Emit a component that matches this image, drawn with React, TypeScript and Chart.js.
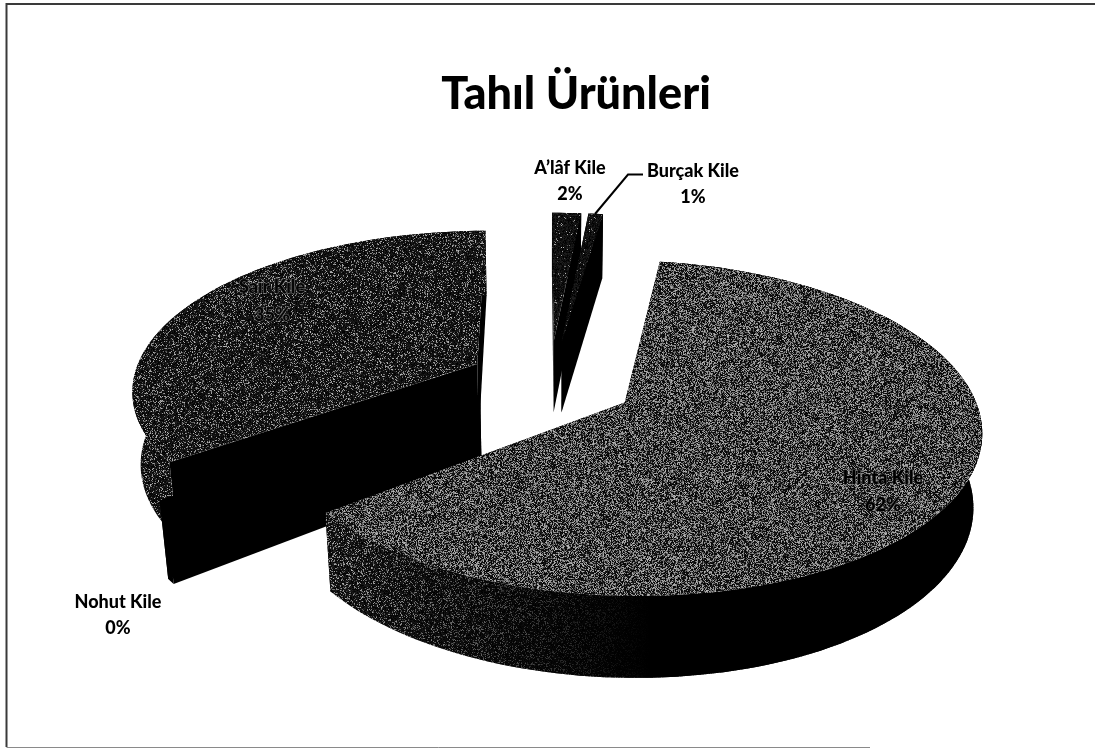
import React, { useEffect, useRef } from "react";
import { Chart, registerables } from "chart.js";

Chart.register(...registerables);

const categories = ["Hinta Kile", "Nohut Kile", "Şair Kile", "A’lâf Kile", "Burçak Kile"];
const shareValues = [62.2, 0.49, 34.9, 1.6, 0.8];
const shareLabels = ["62%", "0%", "35%", "2%", "1%"];
const titleText = "Tahıl Ürünleri";

// Slice explosion, as a fraction of the radius
const explode = [0.24, 0.24, 0.24, 0.24, 0.24];
// Extra screen shift of each exploded slice
const nudgeX = [-1, -5, -3, -3, -1];
const nudgeY = [0, -12, -2, -5, -5];
// Painter's order: back to front
const drawOrder = [3, 4, 2, 1, 0];
// Density of the light scan grain: top face / outer wall
const topGrain = [0.5, 0.0, 0.22, 0.05, 0.05];
const wallGrain = [0.24, 0.0, 0.2, 0.0, 0.0];

const labelPos: [number, number, number, string, string, string][] = [
  [883, 478, 505, "#000000", "900", "rgba(120,120,120,0.7)"],
  [118, 602, 628, "#000000", "900", ""],
  [272, 287, 315, "#050505", "900", "rgba(140,140,140,0.85)"],
  [570, 168, 194, "#000000", "900", ""],
  [693, 171, 197, "#000000", "900", ""],
];

// Projection of the pie plane on the screen
const CX = 553, CY = 383, AX = 345, BY = 158, TILT = 0.15, HEIGHT = 74, SHRINK = 0.02;

function project(px: number, py: number, z: number): [number, number] {
  const s = 1 / (1 - TILT * py + SHRINK * z);
  return [CX + AX * px * s, CY + BY * py * s + HEIGHT * z * s];
}

const grainCache = new Map<number, CanvasPattern | string>();
function grain(density: number): CanvasPattern | string {
  if (density <= 0) return "#000";
  const hit = grainCache.get(density);
  if (hit) return hit;
  const size = 509;
  const c = document.createElement("canvas");
  c.width = c.height = size;
  const g = c.getContext("2d")!;
  const img = g.createImageData(size, size);
  let seed = 20231;
  const next = () => {
    seed = (seed * 1664525 + 1013904223) >>> 0;
    return (seed >>> 8) / 16777216;
  };
  for (let i = 0; i < size * size; i++) {
    const light = next() < density;
    const shade = next();
    const v = light ? 70 + shade * 115 : shade * 32;
    img.data[i * 4] = img.data[i * 4 + 1] = img.data[i * 4 + 2] = v;
    img.data[i * 4 + 3] = 255;
  }
  g.putImageData(img, 0, 0);
  const pattern = g.createPattern(c, "repeat")!;
  grainCache.set(density, pattern);
  return pattern;
}

function fillPoly(ctx: CanvasRenderingContext2D, pts: [number, number][], fill: any) {
  ctx.beginPath();
  pts.forEach((p, i) => (i ? ctx.lineTo(p[0], p[1]) : ctx.moveTo(p[0], p[1])));
  ctx.closePath();
  ctx.fillStyle = fill;
  ctx.fill();
}

const pie3d = {
  id: "pie3d",
  beforeDatasetDraw(chart: any) {
    const ctx: CanvasRenderingContext2D = chart.ctx;
    const arcs = chart.getDatasetMeta(0).data;
    ctx.save();
    for (const i of drawOrder) {
      const arc = arcs[i];
      const a0: number = arc.startAngle;
      const a1: number = arc.endAngle;
      const mid = (a0 + a1) / 2;
      const ox = Math.cos(mid) * explode[i];
      const oy = Math.sin(mid) * explode[i];
      const steps = Math.max(1, Math.ceil((a1 - a0) / 0.03));
      const place = (px: number, py: number, z: number): [number, number] => {
        const p = project(px, py, z);
        return [p[0] + nudgeX[i], p[1] + nudgeY[i]];
      };
      const rim: [number, number][] = [];
      for (let k = 0; k <= steps; k++) {
        const a = a0 + ((a1 - a0) * k) / steps;
        rim.push([ox + Math.cos(a), oy + Math.sin(a)]);
      }
      const topRim = rim.map((p) => place(p[0], p[1], 0));
      const botRim = rim.map((p) => place(p[0], p[1], 1));
      const apexT = place(ox, oy, 0);
      const apexB = place(ox, oy, 1);
      // cut faces
      fillPoly(ctx, [apexT, topRim[0], botRim[0], apexB], "#000");
      fillPoly(ctx, [apexT, topRim[steps], botRim[steps], apexB], "#000");
      // outer wall
      const wall = [...topRim, ...botRim.slice().reverse()];
      fillPoly(ctx, wall, grain(wallGrain[i]));
      if (i === 0) {
        const g = ctx.createLinearGradient(345, 0, 650, 0);
        g.addColorStop(0, "rgba(0,0,0,0)");
        g.addColorStop(1, "rgba(0,0,0,1)");
        fillPoly(ctx, wall, g);
      }
      // top face
      fillPoly(ctx, [apexT, ...topRim], grain(topGrain[i]));
    }
    ctx.restore();
    return false;
  },
  afterDraw(chart: any) {
    const ctx: CanvasRenderingContext2D = chart.ctx;
    ctx.save();
    // scanned page frame
    ctx.strokeStyle = "#3a3a3a";
    ctx.lineWidth = 2;
    ctx.beginPath();
    ctx.moveTo(1095, 4);
    ctx.lineTo(6.5, 4);
    ctx.lineTo(6.5, 747);
    ctx.stroke();
    ctx.strokeStyle = "#8a8a8a";
    ctx.lineWidth = 1;
    ctx.beginPath();
    ctx.moveTo(6.5, 747.5);
    ctx.lineTo(870, 747.5);
    ctx.stroke();
    // leader of the Burçak label
    ctx.strokeStyle = "#000";
    ctx.lineWidth = 2;
    ctx.beginPath();
    ctx.moveTo(643, 174.5);
    ctx.lineTo(628, 174.5);
    ctx.lineTo(595, 214);
    ctx.stroke();
    // data labels
    ctx.textAlign = "center";
    ctx.textBaseline = "middle";
    categories.forEach((name, i) => {
      const [x, y1, y2, color, weight, halo] = labelPos[i];
      ctx.font = `${weight} 18px Lato`;
      if (halo) {
        ctx.strokeStyle = halo;
        ctx.lineWidth = 1;
        ctx.strokeText(name, x, y1);
        ctx.strokeText(shareLabels[i], x, y2);
      }
      ctx.fillStyle = color;
      ctx.fillText(name, x, y1);
      ctx.fillText(shareLabels[i], x, y2);
    });
    ctx.restore();
  },
};

export default function App() {
  const ref = useRef<HTMLCanvasElement>(null);
  useEffect(() => {
    document.body.style.margin = "0";
    document.body.style.overflow = "hidden";
    document.body.style.background = "#fff";
    const chart = new Chart(ref.current!, {
      type: "pie",
      data: {
        labels: categories,
        datasets: [{ data: shareValues, backgroundColor: "#444", borderWidth: 0 }],
      },
      options: {
        responsive: false,
        animation: false,
        events: [],
        rotation: 8.4,
        plugins: {
          legend: { display: false },
          tooltip: { enabled: false },
          title: {
            display: true,
            text: titleText,
            color: "#000",
            font: { family: "Lato", size: 45, weight: "900" },
            padding: { top: 67, bottom: 10 },
          },
        },
      },
      plugins: [pie3d],
    } as any);
    return () => chart.destroy();
  }, []);
  return (
    <div style={{ width: 1095, height: 749, overflow: "hidden", position: "relative" }}>
      <canvas ref={ref} width={1152} height={749} style={{ display: "block" }} />
    </div>
  );
}
